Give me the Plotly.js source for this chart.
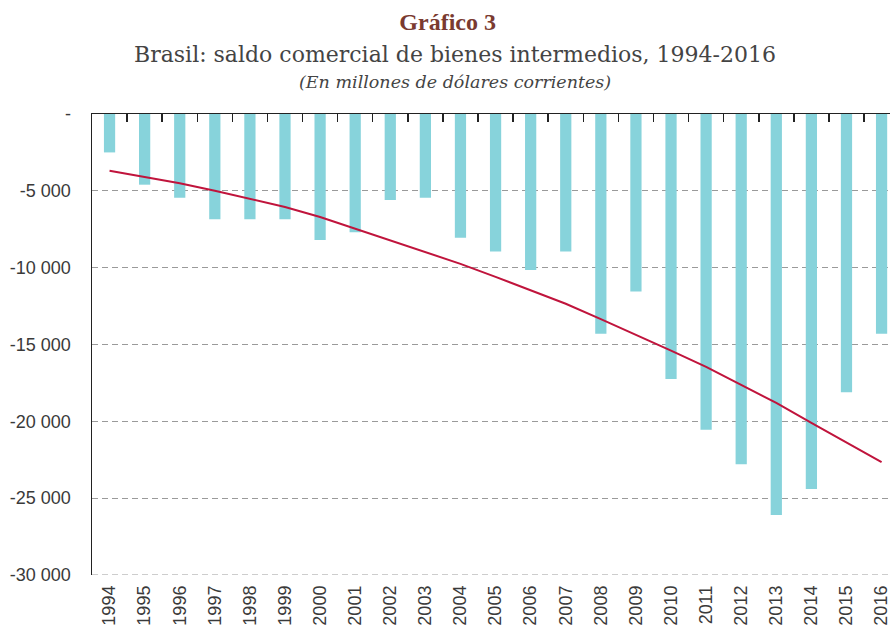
<!DOCTYPE html>
<html>
<head>
<meta charset="utf-8">
<script src="https://cdn.plot.ly/plotly-3.0.1.min.js"></script>
<style>html,body{margin:0;padding:0;overflow:hidden;background:#fff;}#chart{width:890px;height:627px;}</style>
</head>
<body>
<div id="chart"></div>
<script>
const years = ['1994','1995','1996','1997','1998','1999','2000','2001','2002','2003','2004','2005','2006','2007','2008','2009','2010','2011','2012','2013','2014','2015','2016'];
const saldo = [-2500,-4600,-5450,-6850,-6850,-6850,-8200,-7700,-5600,-5450,-8050,-8950,-10150,-8950,-14300,-11550,-17250,-20550,-22800,-26100,-24400,-18100,-14300];
const tendencia = [-3700,-4100,-4500,-5000,-5500,-6050,-6700,-7450,-8200,-8950,-9750,-10600,-11450,-12350,-13350,-14350,-15400,-16450,-17600,-18800,-20100,-21350,-22650];
const yTickVals = [0,-5000,-10000,-15000,-20000,-25000,-30000];
const yTickText = ['-','-5 000','-10 000','-15 000','-20 000','-25 000','-30 000'];

const tickFont = {family:'Liberation Sans, Arial, sans-serif', size:18, color:'#3a3a3a'};

const traces = [
  {type:'bar', x:years, y:saldo, marker:{color:'#87D3DB'}, xaxis:'x', yaxis:'y', hoverinfo:'x+y'},
  {type:'scatter', mode:'lines', x:years, y:tendencia, line:{color:'#C0143C', width:2}, xaxis:'x2', yaxis:'y'}
];

const layout = {
  width:890, height:627,
  margin:{l:92, r:0, t:114, b:52},
  paper_bgcolor:'#fff', plot_bgcolor:'#fff',
  showlegend:false,
  bargap:0.68,
  title:{text:'<b>Gráfico 3</b>', x:0.503, xanchor:'center', y:0.979, yanchor:'top',
         font:{family:'Liberation Serif, serif', size:24, color:'#7A3A30'}},
  annotations:[
    {text:'Brasil: saldo comercial de bienes intermedios, 1994-2016', xref:'paper', yref:'paper',
     x:0.455, y:1.0, xanchor:'center', yanchor:'bottom', yshift:45, showarrow:false,
     font:{family:'DejaVu Serif, serif', size:22, color:'#444'}},
    {text:'<i>(En millones de dólares corrientes)</i>', xref:'paper', yref:'paper',
     x:0.455, y:1.0, xanchor:'center', yanchor:'bottom', yshift:20, showarrow:false,
     font:{family:'DejaVu Serif, serif', size:17.5, color:'#444'}}
  ],
  shapes:[
    {type:'line', xref:'paper', yref:'y', x0:0, x1:1, y0:-30000, y1:-30000,
     line:{color:'#9a9a9a', width:1, dash:'6px,4px'}, layer:'below'}
  ],
  xaxis:{type:'category', categoryorder:'array', categoryarray:years, range:[-0.5,22.24],
         tickangle:-90, showline:false, ticks:'', showgrid:false, zeroline:false,
         tickfont:tickFont, ticklabelstandoff:6, fixedrange:true},
  xaxis2:{type:'category', categoryorder:'array', categoryarray:years, range:[-0.5,22.24],
          overlaying:'x', side:'top', anchor:'y', showline:true, linecolor:'#222', linewidth:1.5,
          ticks:'inside', ticklen:8, tickwidth:1.5, tickcolor:'#222', tickson:'boundaries',
          showticklabels:false, showgrid:false, zeroline:false, fixedrange:true},
  yaxis:{range:[-30000,0], tickmode:'array', tickvals:yTickVals, ticktext:yTickText,
         showline:true, linecolor:'#222', linewidth:1.5, ticks:'', showgrid:true,
         gridcolor:'#9a9a9a', gridwidth:1, griddash:'6px,4px', zeroline:false,
         tickfont:tickFont, ticklabelstandoff:16, fixedrange:true}
};

Plotly.newPlot('chart', traces, layout, {displayModeBar:false, staticPlot:true});
</script>
</body>
</html>
